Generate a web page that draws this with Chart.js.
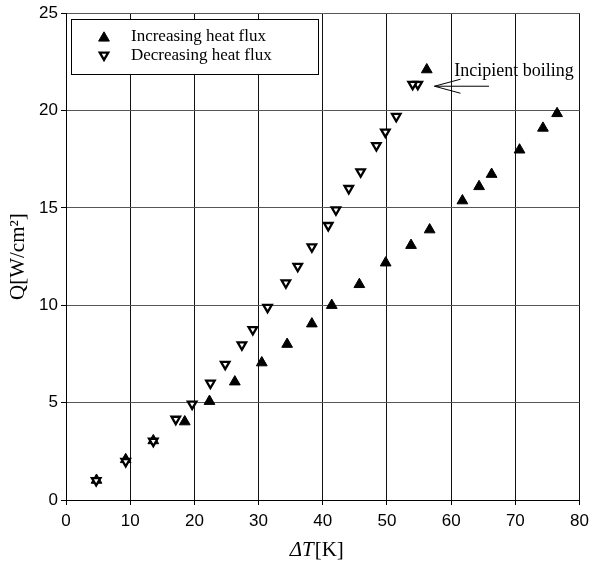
<!DOCTYPE html>
<html>
<head>
<meta charset="utf-8">
<title>Q vs dT</title>
<script src="https://cdn.jsdelivr.net/npm/chart.js@4.4.1/dist/chart.umd.min.js"></script>
<style>
  html, body { margin:0; padding:0; background:#fff; }
  #wrap { width:595px; height:563px; }
</style>
</head>
<body>
<div id="wrap"><canvas id="chart" width="595" height="563"></canvas></div>
<script>
  // ===== Data =====
  const xTicks = [0, 10, 20, 30, 40, 50, 60, 70, 80];
  const yTicks = [0, 5, 10, 15, 20, 25];

  const seriesNames = ['Increasing heat flux', 'Decreasing heat flux'];

  // increasing heat flux (filled up-triangles)
  const incX = [4.75, 9.3, 13.6, 18.5, 22.35, 26.3, 30.5, 34.45, 38.3, 41.4, 45.7,
                49.8, 53.75, 56.65, 61.75, 64.35, 66.3, 70.65, 74.3, 76.5, 56.2];
  const incY = [1.02, 2.08, 3.05, 4.02, 5.07, 6.07, 7.05, 8.0, 9.05, 10.0, 11.07,
                12.18, 13.08, 13.88, 15.37, 16.1, 16.73, 17.98, 19.1, 19.85, 22.1];

  // decreasing heat flux (open down-triangles)
  const decX = [54.8, 54.0, 51.45, 49.75, 48.35, 45.9, 44.05, 42.05, 40.85, 38.3, 36.1,
                34.25, 31.4, 29.1, 27.4, 24.8, 22.5, 19.65, 17.1, 13.6, 9.3, 4.7];
  const decY = [21.35, 21.35, 19.7, 18.9, 18.2, 16.85, 16.0, 14.9, 14.1, 13.0, 12.0,
                11.15, 9.9, 8.75, 7.97, 6.97, 6.0, 4.93, 4.15, 3.02, 1.98, 1.0];

  // annotation (data units): arrow tip, arrow tail, text start
  const noteText = 'Incipient boiling';
  const noteTip = [57.4, 21.25];
  const noteTailX = 65.9;
  const noteTextAt = [60.5, 21.8];

  const toPts = (xs, ys) => xs.map((x, i) => ({ x, y: ys[i] }));

  const tickFont = { family: '"Liberation Sans", Arial, sans-serif', size: 17 };
  const serif = '"Liberation Serif", "Times New Roman", serif';

  const incStyle = { r: 6.2, bw: 1 };
  const decStyle = { r: 4.9, bw: 2.3 };

  // ===== Legend, annotation, axis titles =====
  function tri(ctx, x, y, r, rot){
    let rad = rot * Math.PI / 180;
    ctx.beginPath();
    for (let k = 0; k < 3; k++){
      const px = x + Math.sin(rad) * r, py = y - Math.cos(rad) * r;
      if (k === 0) ctx.moveTo(px, py); else ctx.lineTo(px, py);
      rad += 2 * Math.PI / 3;
    }
    ctx.closePath();
  }

  const overlay = {
    id: 'overlay',
    afterDraw(chart){
      const { ctx, scales: { x, y }, chartArea } = chart;
      ctx.save();

      // legend box
      ctx.fillStyle = '#fff';
      ctx.strokeStyle = '#000';
      ctx.lineWidth = 1;
      ctx.fillRect(71.5, 19.5, 247, 55);
      ctx.strokeRect(71.5, 19.5, 247, 55);

      const rows = [37, 56];
      tri(ctx, 104, rows[0] + 1, incStyle.r, 0);
      ctx.fillStyle = '#000'; ctx.fill(); ctx.lineWidth = incStyle.bw; ctx.stroke();
      tri(ctx, 104, rows[1] - 1, decStyle.r, 180);
      ctx.fillStyle = '#fff'; ctx.fill(); ctx.lineWidth = decStyle.bw; ctx.stroke();

      ctx.fillStyle = '#000';
      ctx.font = '17px ' + serif;
      ctx.textAlign = 'left';
      ctx.textBaseline = 'middle';
      ctx.fillText(seriesNames[0], 131, rows[0]);
      ctx.fillText(seriesNames[1], 131, rows[1]);

      // annotation arrow + text
      const tx = x.getPixelForValue(noteTip[0]), ty = y.getPixelForValue(noteTip[1]);
      const ex = x.getPixelForValue(noteTailX);
      ctx.lineWidth = 1;
      ctx.beginPath();
      ctx.moveTo(ex, ty); ctx.lineTo(tx, ty);
      ctx.moveTo(tx + 26, ty - 7); ctx.lineTo(tx, ty); ctx.lineTo(tx + 26, ty + 7);
      ctx.stroke();
      ctx.font = '18px ' + serif;
      ctx.textBaseline = 'alphabetic';
      ctx.fillText(noteText, x.getPixelForValue(noteTextAt[0]), y.getPixelForValue(noteTextAt[1]));

      // y title
      ctx.save();
      ctx.translate(18.5, (chartArea.top + chartArea.bottom) / 2);
      ctx.rotate(-Math.PI / 2);
      ctx.font = '21px ' + serif;
      ctx.textAlign = 'center';
      ctx.textBaseline = 'middle';
      ctx.fillText('Q[W/cm\u00B2]', 0, 0);
      ctx.restore();

      // x title: italic "ΔT" + "[K]"
      const a = '\u0394T', b = '[K]';
      ctx.font = 'italic 21px ' + serif;
      const wa = ctx.measureText(a).width;
      ctx.font = '21px ' + serif;
      const wb = ctx.measureText(b).width;
      const cx = (chartArea.left + chartArea.right) / 2 - 6;
      const sx = cx - (wa + wb + 1) / 2;
      ctx.textAlign = 'left';
      ctx.textBaseline = 'alphabetic';
      ctx.font = 'italic 21px ' + serif;
      ctx.fillText(a, sx, 556);
      ctx.font = '21px ' + serif;
      ctx.fillText(b, sx + wa + 1, 556);

      ctx.restore();
    }
  };

  // ===== Chart =====
  new Chart(document.getElementById('chart'), {
    type: 'scatter',
    data: {
      datasets: [
        {
          label: seriesNames[0],
          data: toPts(incX, incY),
          pointStyle: 'triangle',
          pointRadius: incStyle.r,
          pointBorderWidth: incStyle.bw,
          backgroundColor: '#000',
          borderColor: '#000',
          order: 1
        },
        {
          label: seriesNames[1],
          data: toPts(decX, decY),
          pointStyle: 'triangle',
          rotation: 180,
          pointRadius: decStyle.r,
          pointBorderWidth: decStyle.bw,
          backgroundColor: '#fff',
          borderColor: '#000',
          order: 0
        }
      ]
    },
    options: {
      responsive: false,
      animation: false,
      devicePixelRatio: 1,
      layout: { padding: { left: 0, right: 12, top: 11, bottom: 0 } },
      plugins: { legend: { display: false }, tooltip: { enabled: false } },
      scales: {
        x: {
          type: 'linear',
          min: 0, max: 80,
          afterBuildTicks: s => { s.ticks = xTicks.map(v => ({ value: v })); },
          afterFit: s => { s.height = 63; },
          grid: { color: '#111', lineWidth: 1, tickLength: 5, tickColor: '#000' },
          border: { color: '#000', width: 1 },
          ticks: { font: tickFont, color: '#000', padding: 6, maxRotation: 0 }
        },
        y: {
          type: 'linear',
          min: 0, max: 25,
          afterBuildTicks: s => { s.ticks = yTicks.map(v => ({ value: v })); },
          afterFit: s => { s.width = 66; },
          grid: { color: '#555', lineWidth: 1, tickLength: 5, tickColor: '#000' },
          border: { color: '#000', width: 1 },
          ticks: { font: tickFont, color: '#000', padding: 3 }
        }
      }
    },
    plugins: [overlay]
  });
</script>
</body>
</html>
